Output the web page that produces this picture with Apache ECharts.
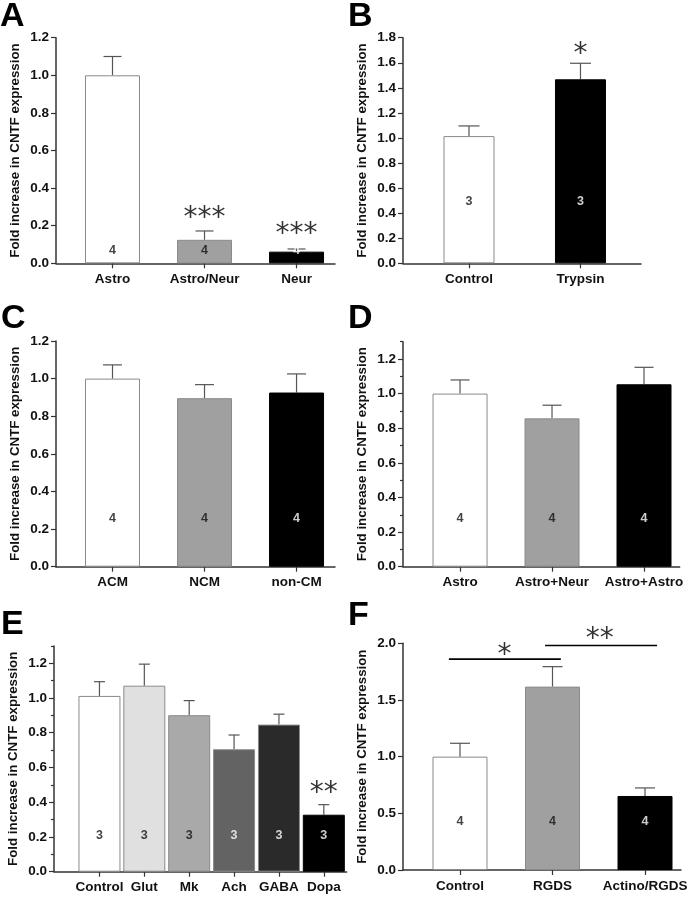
<!DOCTYPE html>
<html><head><meta charset="utf-8">
<script src="https://cdn.jsdelivr.net/npm/echarts@6/dist/echarts.min.js"></script>
<style>html,body{margin:0;padding:0;background:#fff}#c{width:697px;height:900px}</style>
</head><body><div id="c"></div>
<script>
const FONT = "'Liberation Sans', Arial, Helvetica, sans-serif";
const STAR_FONT = "'DejaVu Sans', sans-serif";
const YTITLE = 'Fold increase in CNTF expression';

// ---- Panel A ----
const catsA = ['Astro', 'Astro/Neur', 'Neur'];
const valsA = [1.0, 0.125, 0.062];
const errA = [0.10, 0.047, 0.014];
const nA = ['4', '4', '4'];
const colorsA = ['#ffffff', '#a0a0a0', '#000000'];
const ticksA = [0, 0.2, 0.4, 0.6, 0.8, 1.0, 1.2];
const sigA = ['***', '***'];

// ---- Panel B ----
const catsB = ['Control', 'Trypsin'];
const valsB = [1.015, 1.468];
const errB = [0.081, 0.128];
const nB = ['3', '3'];
const colorsB = ['#ffffff', '#000000'];
const ticksB = [0, 0.2, 0.4, 0.6, 0.8, 1.0, 1.2, 1.4, 1.6, 1.8];
const sigB = ['*'];

// ---- Panel C ----
const catsC = ['ACM', 'NCM', 'non-CM'];
const valsC = [1.0, 0.896, 0.926];
const errC = [0.073, 0.072, 0.099];
const nC = ['4', '4', '4'];
const colorsC = ['#ffffff', '#a0a0a0', '#000000'];
const ticksC = [0, 0.2, 0.4, 0.6, 0.8, 1.0, 1.2];

// ---- Panel D ----
const catsD = ['Astro', 'Astro+Neur', 'Astro+Astro'];
const valsD = [1.0, 0.857, 1.054];
const errD = [0.079, 0.076, 0.098];
const nD = ['4', '4', '4'];
const colorsD = ['#ffffff', '#a0a0a0', '#000000'];
const ticksD = [0, 0.2, 0.4, 0.6, 0.8, 1.0, 1.2];
const minorD = [0.1, 0.3, 0.5, 0.7, 0.9, 1.1, 1.3];

// ---- Panel E ----
const catsE = ['Control', 'Glut', 'Mk', 'Ach', 'GABA', 'Dopa'];
const valsE = [1.012, 1.071, 0.901, 0.705, 0.847, 0.328];
const errE = [0.082, 0.124, 0.084, 0.082, 0.060, 0.058];
const nE = ['3', '3', '3', '3', '3', '3'];
const colorsE = ['#ffffff', '#e0e0e0', '#a9a9a9', '#636363', '#2a2a2a', '#000000'];
const ticksE = [0, 0.2, 0.4, 0.6, 0.8, 1.0, 1.2];
const minorE = [0.1, 0.3, 0.5, 0.7, 0.9, 1.1, 1.3];
const sigE = ['**'];

// ---- Panel F ----
const catsF = ['Control', 'RGDS', 'Actino/RGDS'];
const valsF = [1.0, 1.618, 0.653];
const errF = [0.118, 0.176, 0.071];
const nF = ['4', '4', '4'];
const colorsF = ['#ffffff', '#a0a0a0', '#000000'];
const ticksF = [0, 0.5, 1.0, 1.5, 2.0];
const sigF = ['*', '**'];

const darkText = c => ['#000000', '#2a2a2a', '#636363'].includes(c) ? '#ffffff' : '#111111';

const panels = [
  { letter: 'A', lpos: [0, 0], cats: catsA, vals: valsA, errs: errA, ns: nA, colors: colorsA, yTicks: ticksA, yMinor: null, yMax: 1.2,
    grid: [56, 37.7, 279, 225.6], xMin: 0.386, xMax: 3.418, barW: 55, capW: 18, nY: 0.07,
    sig: [{ x: 2, y: 0.27, t: sigA[0] }, { x: 3, y: 0.188, t: sigA[1] }], lines: [] },
  { letter: 'B', lpos: [348, 0], cats: catsB, vals: valsB, errs: errB, ns: nB, colors: colorsB, yTicks: ticksB, yMinor: null, yMax: 1.8,
    grid: [403, 37.7, 238, 225.6], xMin: 0.408, xMax: 2.543, barW: 51, capW: 21, nY: 0.49,
    sig: [{ x: 2, y: 1.718, t: sigB[0] }], lines: [] },
  { letter: 'C', lpos: [1, 302], cats: catsC, vals: valsC, errs: errC, ns: nC, colors: colorsC, yTicks: ticksC, yMinor: null, yMax: 1.2,
    grid: [56, 341, 279, 225.7], xMin: 0.386, xMax: 3.418, barW: 55, capW: 19, nY: 0.257, sig: [], lines: [] },
  { letter: 'D', lpos: [348, 302], cats: catsD, vals: valsD, errs: errD, ns: nD, colors: colorsD, yTicks: ticksD, yMinor: minorD, yMax: 1.3,
    grid: [403, 341.7, 276.7, 225], xMin: 0.380, xMax: 3.388, barW: 55, capW: 19, nY: 0.279, sig: [], lines: [] },
  { letter: 'E', lpos: [1, 608], cats: catsE, vals: valsE, errs: errE, ns: nE, colors: colorsE, yTicks: ticksE, yMinor: minorE, yMax: 1.3,
    grid: [54, 645.9, 292.7, 225.8], xMin: -0.013, xMax: 6.51, barW: 42, capW: 11, nY: 0.206,
    sig: [{ x: 6, y: 0.485, t: sigE[0] }], lines: [] },
  { letter: 'F', lpos: [348, 599], cats: catsF, vals: valsF, errs: errF, ns: nF, colors: colorsF, yTicks: ticksF, yMinor: null, yMax: 2.0,
    grid: [403, 643.3, 278, 226.7], xMin: 0.384, xMax: 3.389, barW: 55, capW: 20, nY: 0.426,
    sig: [{ x: 1.48, y: 1.946, t: sigF[0] }, { x: 2.51, y: 2.085, t: sigF[1] }],
    lines: [[[0.88, 1.86], [2.09, 1.86]], [[1.92, 1.98], [3.13, 1.98]]] }
];

const option = { animation: false, backgroundColor: '#ffffff', title: [], grid: [], xAxis: [], yAxis: [], series: [] };
let yIdx = 0;
panels.forEach((p, i) => {
  option.title.push({ text: p.letter, left: p.lpos[0], top: p.lpos[1], padding: 0,
    textStyle: { fontFamily: FONT, fontSize: 34, fontWeight: 'bold', color: '#000' } });
  option.grid.push({ left: p.grid[0], top: p.grid[1], width: p.grid[2], height: p.grid[3] });
  const pos = p.cats.map((_, k) => k + 1);
  option.xAxis.push({ type: 'value', gridIndex: i, min: p.xMin, max: p.xMax, splitLine: { show: false },
    axisLine: { show: true, onZero: false, lineStyle: { color: '#333', width: 1.5 } },
    axisTick: { show: true, customValues: pos, length: 5, lineStyle: { color: '#333', width: 1.2 } },
    axisLabel: { customValues: pos, formatter: v => p.cats[Math.round(v) - 1] || '', margin: 9,
      fontFamily: FONT, fontSize: 13.5, fontWeight: 'bold', color: '#111' } });
  const mainY = yIdx;
  option.yAxis.push({ type: 'value', gridIndex: i, position: 'left', min: 0, max: p.yMax, splitLine: { show: false },
    axisLine: { show: true, onZero: false, lineStyle: { color: '#333', width: 1.5 } },
    axisTick: { show: true, customValues: p.yTicks, length: 5, lineStyle: { color: '#333', width: 1.2 } },
    axisLabel: { customValues: p.yTicks, formatter: v => v.toFixed(1), margin: 7,
      fontFamily: FONT, fontSize: 13.5, fontWeight: 'bold', color: '#111' },
    name: YTITLE, nameLocation: 'middle', nameGap: 34,
    nameTextStyle: { fontFamily: FONT, fontSize: 13.3, fontWeight: 'bold', color: '#111' } });
  yIdx++;
  if (p.yMinor) {
    option.yAxis.push({ type: 'value', gridIndex: i, position: 'left', offset: 0, min: 0, max: p.yMax, splitLine: { show: false },
      axisLine: { show: false, onZero: false },
      axisTick: { show: true, customValues: p.yMinor, length: 3, lineStyle: { color: '#333', width: 1.2 } },
      axisLabel: { show: false } });
    yIdx++;
  }
  option.series.push({ type: 'bar', xAxisIndex: i, yAxisIndex: mainY, barWidth: p.barW, silent: true,
    data: p.vals.map((v, k) => ({ value: [k + 1, v], itemStyle: { color: p.colors[k],
      borderColor: p.colors[k] === '#000000' ? '#000000' : '#8a8a8a', borderWidth: 1 } })) });
  option.series.push({ type: 'custom', xAxisIndex: i, yAxisIndex: mainY, silent: true, clip: false,
    data: p.vals.map((v, k) => [k + 1, v, p.errs[k]]),
    renderItem: (params, api) => {
      const x = api.value(0), y = api.value(1), e = api.value(2);
      const a = api.coord([x, y]), b = api.coord([x, y + e]);
      const h = p.capW / 2;
      const st = { stroke: '#555', lineWidth: 1.2 };
      return { type: 'group', children: [
        { type: 'line', shape: { x1: a[0], y1: a[1], x2: b[0], y2: b[1] }, style: st },
        { type: 'line', shape: { x1: b[0] - h, y1: b[1], x2: b[0] + h, y2: b[1] }, style: st } ] };
    } });
  option.series.push({ type: 'scatter', xAxisIndex: i, yAxisIndex: mainY, silent: true, symbolSize: 1,
    itemStyle: { color: 'rgba(0,0,0,0)' },
    data: p.ns.map((n, k) => ({ value: [k + 1, p.nY], label: { show: true, position: 'inside', formatter: n,
      color: darkText(p.colors[k]), fontFamily: FONT, fontSize: 12.5, fontWeight: 'bold' } })) });
  if (p.sig.length) {
    option.series.push({ type: 'scatter', xAxisIndex: i, yAxisIndex: mainY, silent: true, clip: false, symbolSize: 1,
      itemStyle: { color: 'rgba(0,0,0,0)' },
      data: p.sig.map(s => ({ value: [s.x, s.y], label: { show: true, position: 'inside', formatter: s.t,
        offset: [0, 6.5], color: '#000', fontFamily: STAR_FONT, fontSize: 28, fontWeight: 'normal' } })) });
  }
  p.lines.forEach(l => {
    option.series.push({ type: 'line', xAxisIndex: i, yAxisIndex: mainY, silent: true, clip: false,
      symbol: 'none', data: l, lineStyle: { color: '#000', width: 1.6 } });
  });
});

const chart = echarts.init(document.getElementById('c'), null, { renderer: 'canvas' });
chart.setOption(option);
</script></body></html>
